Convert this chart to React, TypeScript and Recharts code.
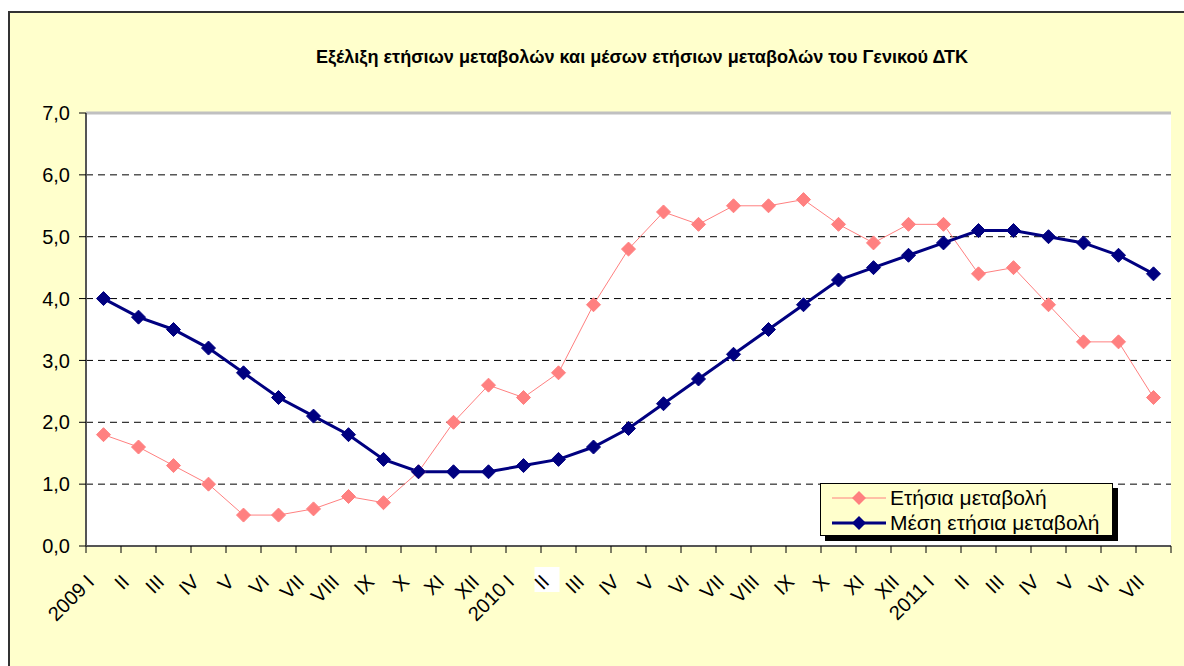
import React from 'react';
import { LineChart, Line, XAxis, YAxis, CartesianGrid, ReferenceLine } from 'recharts';

const categories = [
  '2009 I', 'II', 'III', 'IV', 'V', 'VI', 'VII', 'VIII', 'IX', 'X', 'XI', 'XII',
  '2010 I', 'II', 'III', 'IV', 'V', 'VI', 'VII', 'VIII', 'IX', 'X', 'XI', 'XII',
  '2011 I', 'II', 'III', 'IV', 'V', 'VI', 'VII',
];
const annualChange = [
  1.8, 1.6, 1.3, 1.0, 0.5, 0.5, 0.6, 0.8, 0.7, 1.2, 2.0, 2.6,
  2.4, 2.8, 3.9, 4.8, 5.4, 5.2, 5.5, 5.5, 5.6, 5.2, 4.9, 5.2,
  5.2, 4.4, 4.5, 3.9, 3.3, 3.3, 2.4,
];
const avgAnnualChange = [
  4.0, 3.7, 3.5, 3.2, 2.8, 2.4, 2.1, 1.8, 1.4, 1.2, 1.2, 1.2,
  1.3, 1.4, 1.6, 1.9, 2.3, 2.7, 3.1, 3.5, 3.9, 4.3, 4.5, 4.7,
  4.9, 5.1, 5.1, 5.0, 4.9, 4.7, 4.4,
];
const yTicks = [0, 1, 2, 3, 4, 5, 6, 7];
const seriesNames = ['Ετήσια μεταβολή', 'Μέση ετήσια μεταβολή'];
const title = 'Εξέλιξη ετήσιων  μεταβολών και  μέσων ετήσιων μεταβολών του Γενικού ΔΤΚ';
const highlightedIndex = 13;

const data = categories.map((c, i) => ({ label: c, annual: annualChange[i], avg: avgAnnualChange[i] }));

const W = 1184;
const H = 666;
const X_H = 120;
const M = { top: 113, right: 13, bottom: 0, left: 0 };
const Y_W = 86;
const BAND = (W - M.right - M.left - Y_W) / categories.length;
const FONT = '"Liberation Sans", Arial, sans-serif';
const PINK = '#FF8080';
const NAVY = '#000080';

const Diamond = (color: string, r: number) => (props: any) => {
  const { cx, cy, index } = props;
  if (cx == null || cy == null) return <g key={index} />;
  return (
    <polygon
      key={`d-${color}-${index}`}
      points={`${cx},${cy - r} ${cx + r},${cy} ${cx},${cy + r} ${cx - r},${cy}`}
      fill={color}
      stroke={color}
    />
  );
};

const XTick = (props: any) => {
  const { x, y, payload, index } = props;
  const bx = x - BAND / 2;
  const tx = x - 8;
  const ty = y + 37;
  return (
    <g>
      <line x1={bx} y1={y} x2={bx} y2={y + 7} stroke="#000" strokeWidth={1} />
      {index === categories.length - 1 && (
        <line x1={x + BAND / 2} y1={y} x2={x + BAND / 2} y2={y + 7} stroke="#000" strokeWidth={1} />
      )}
      {index === highlightedIndex && (
        <rect x={x - 24} y={y + 21} width={25} height={25} fill="#ffffff" />
      )}
      <g transform={`translate(${tx} ${ty}) rotate(-45)`}>
        <text x={0} y={0} textAnchor="end" fontSize={20} fontFamily={FONT} fill="#000">
          {payload.value}
        </text>
      </g>
    </g>
  );
};

const LegendBox = () => (
  <div style={{ position: 'absolute', left: 820, top: 483, width: 298, height: 58 }}>
    <div style={{ position: 'absolute', left: 5, top: 5, width: 293, height: 53, background: '#000' }} />
    <div
      style={{
        position: 'absolute', left: 0, top: 0, width: 291, height: 51,
        background: '#FFFFCC', border: '1px solid #000', fontFamily: FONT, fontSize: 21,
      }}
    >
      {[PINK, NAVY].map((c, i) => (
        <div key={i} style={{ position: 'absolute', left: 0, top: 1 + i * 25, height: 25, display: 'flex', alignItems: 'center' }}>
          <svg width={67} height={24} style={{ display: 'block' }}>
            <line x1={11} y1={12} x2={65} y2={12} stroke={c} strokeWidth={i === 0 ? 1 : 3} />
            <polygon points="38,5 45,12 38,19 31,12" fill={c} />
          </svg>
          <span style={{ marginLeft: 2, color: '#000', whiteSpace: 'nowrap', lineHeight: '25px' }}>{seriesNames[i]}</span>
        </div>
      ))}
    </div>
  </div>
);

export default function App() {
  return (
    <div style={{ position: 'absolute', left: 0, top: 0, width: W, height: H, background: '#fff', overflow: 'hidden' }}>
      <div
        style={{
          position: 'absolute', left: 8, top: 11, width: W + 20, height: H + 20,
          background: '#FFFFCC', borderTop: '2px solid #333', borderLeft: '2px solid #333',
        }}
      />
      <svg width={W} height={90} style={{ position: 'absolute', left: 0, top: 0 }}>
        <text
          x={642}
          y={63}
          textAnchor="middle"
          fontFamily={FONT}
          fontWeight="bold"
          fontSize={18}
          textLength={652}
          lengthAdjust="spacingAndGlyphs"
          fill="#000"
        >
          {title}
        </text>
      </svg>
      <div style={{ position: 'absolute', left: 0, top: 0 }}>
        <LineChart width={W} height={H} data={data} margin={M}>
          <CartesianGrid horizontal vertical={false} stroke="#000" strokeDasharray="7 5" fill="#ffffff" fillOpacity={1} yAxisId="left" />
          <XAxis
            dataKey="label"
            interval={0}
            padding={{ left: BAND / 2, right: BAND / 2 }}
            tickLine={false}
            tickSize={0}
            tickMargin={0}
            axisLine={{ stroke: '#555', strokeWidth: 2 }}
            tick={<XTick />}
            height={X_H}
          />
          <YAxis
            yAxisId="left"
            domain={[0, 7]}
            ticks={yTicks}
            width={Y_W}
            interval={0}
            tickFormatter={(v: number) => v.toFixed(1).replace('.', ',')}
            tick={{ fontSize: 20, fill: '#000', fontFamily: FONT }}
            tickSize={7}
            tickMargin={9}
            tickLine={{ stroke: '#000' }}
            axisLine={{ stroke: '#555', strokeWidth: 2 }}
          />
          <YAxis
            yAxisId="right"
            orientation="right"
            domain={[0, 7]}
            width={0}
            tick={false}
            tickLine={false}
            axisLine={{ stroke: '#c0c0c0', strokeWidth: 3 }}
          />
          <ReferenceLine yAxisId="left" y={7} stroke="#c0c0c0" strokeWidth={3} />
          <Line
            yAxisId="left"
            type="linear"
            dataKey="annual"
            name={seriesNames[0]}
            stroke={PINK}
            strokeWidth={1}
            dot={Diamond(PINK, 7)}
            activeDot={false}
            isAnimationActive={false}
          />
          <Line
            yAxisId="left"
            type="linear"
            dataKey="avg"
            name={seriesNames[1]}
            stroke={NAVY}
            strokeWidth={3}
            dot={Diamond(NAVY, 7)}
            activeDot={false}
            isAnimationActive={false}
          />
        </LineChart>
      </div>
      <LegendBox />
    </div>
  );
}
